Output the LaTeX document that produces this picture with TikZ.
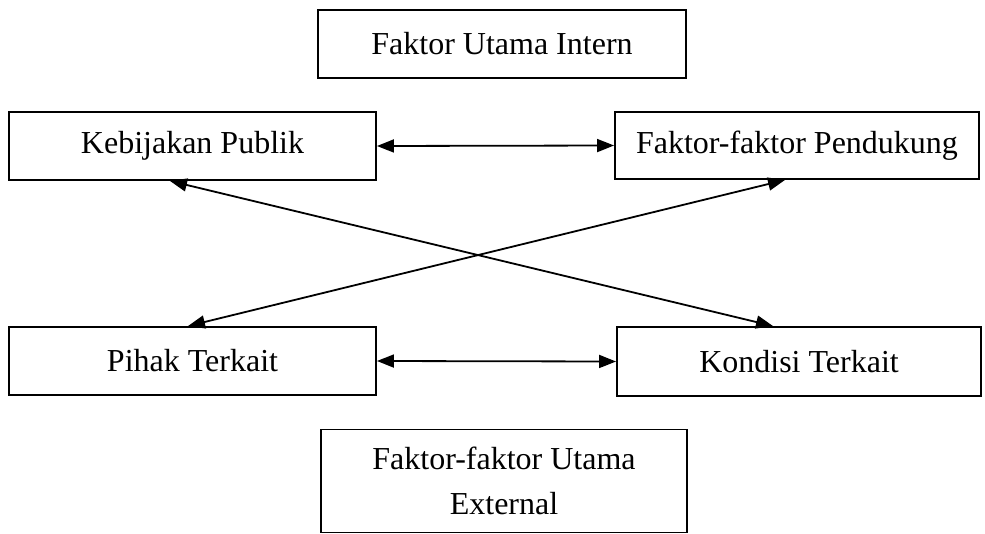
\documentclass[tikz,border=0pt]{standalone}
\usepackage{fontspec}
\setmainfont{Liberation Serif}
\usetikzlibrary{arrows.meta}
\begin{document}
\begin{tikzpicture}[x=1pt,y=-1pt,
  box/.style={draw,line width=1.9pt,inner sep=0pt,font=\fontsize{32}{45}\selectfont,align=center},
  link/.style={line width=1.8pt,{Triangle[length=17pt,width=13pt]}-{Triangle[length=17pt,width=13pt]}}]
\useasboundingbox (0,0) rectangle (985,533);
\node[box,minimum width=368pt,minimum height=68pt] (intern) at (502,44) {Faktor Utama Intern};
\node[box,minimum width=367pt,minimum height=68pt] (kebijakan) at (192.5,146) {Kebijakan Publik};
\node[box,minimum width=364pt,minimum height=67pt] (pendukung) at (797,145.5) {Faktor-faktor Pendukung};
\node[box,minimum width=367pt,minimum height=68pt] (pihak) at (192.5,361) {Pihak Terkait};
\node[box,minimum width=364pt,minimum height=69pt] (kondisi) at (799,361.5) {Kondisi Terkait};
\node[box,minimum width=366pt,minimum height=103pt] (external) at (504,481) {Faktor-faktor Utama\\External};
\draw[link] (kebijakan.east) -- (pendukung.west);
\draw[link] (pihak.east) -- (kondisi.west);
\draw[link] ([xshift=-22.5pt]kebijakan.south) -- ([xshift=-26pt]kondisi.north);
\draw[link] ([xshift=-12pt]pendukung.south) -- ([xshift=-4.5pt]pihak.north);
\end{tikzpicture}
\end{document}
